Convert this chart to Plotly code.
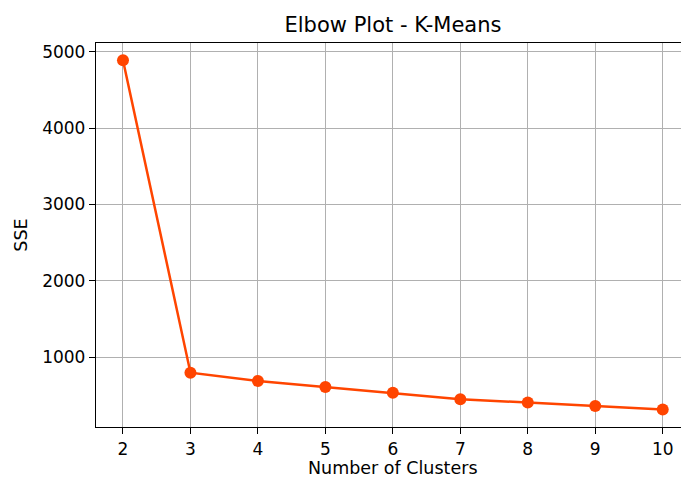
import plotly.graph_objects as go

# Elbow curve for K-Means: sum of squared errors per cluster count
n_clusters = [2, 3, 4, 5, 6, 7, 8, 9, 10]
sse = [4890, 797, 688, 609, 535, 448, 405, 361, 314]

line_color = "#FF4500"
grid_color = "#b0b0b0"
font_family = "DejaVu Sans"

fig = go.Figure(
    go.Scatter(
        x=n_clusters,
        y=sse,
        mode="lines+markers",
        line=dict(color=line_color, width=2.5),
        marker=dict(color=line_color, size=12),
        showlegend=False,
    )
)

axis_common = dict(
    automargin=False,
    showgrid=True,
    gridcolor=grid_color,
    gridwidth=1.3,
    zeroline=False,
    showline=True,
    linecolor="black",
    linewidth=1.3,
    ticks="outside",
    ticklen=6,
    tickwidth=1.3,
    tickcolor="black",
    tickfont=dict(family=font_family, size=17, color="black"),
)

fig.update_xaxes(
    **axis_common,
    range=[1.6, 10.271],
    tickvals=n_clusters,
    mirror=True,
)
fig.update_yaxes(
    **axis_common,
    range=[85, 5115],
    tickvals=[1000, 2000, 3000, 4000, 5000],
    title=dict(text="SSE", standoff=10,
               font=dict(family=font_family, size=17.5, color="black")),
)

fig.update_layout(
    width=681,
    height=478,
    margin=dict(l=96, r=0, t=43, b=51),
    plot_bgcolor="white",
    paper_bgcolor="white",
    font=dict(family=font_family, color="black"),
    title=dict(
        text="Elbow Plot - K-Means",
        x=393 / 681,
        xanchor="center",
        y=1 - 25 / 478,
        yanchor="middle",
        font=dict(family=font_family, size=21, color="black"),
    ),
    annotations=[
        dict(
            text="Number of Clusters",
            xref="paper", yref="paper",
            x=(393 - 96) / (681 - 96), y=-(467.5 - 427) / (478 - 43 - 51),
            xanchor="center", yanchor="middle",
            showarrow=False,
            font=dict(family=font_family, size=17.5, color="black"),
        )
    ],
)

fig.write_html("out.html")
